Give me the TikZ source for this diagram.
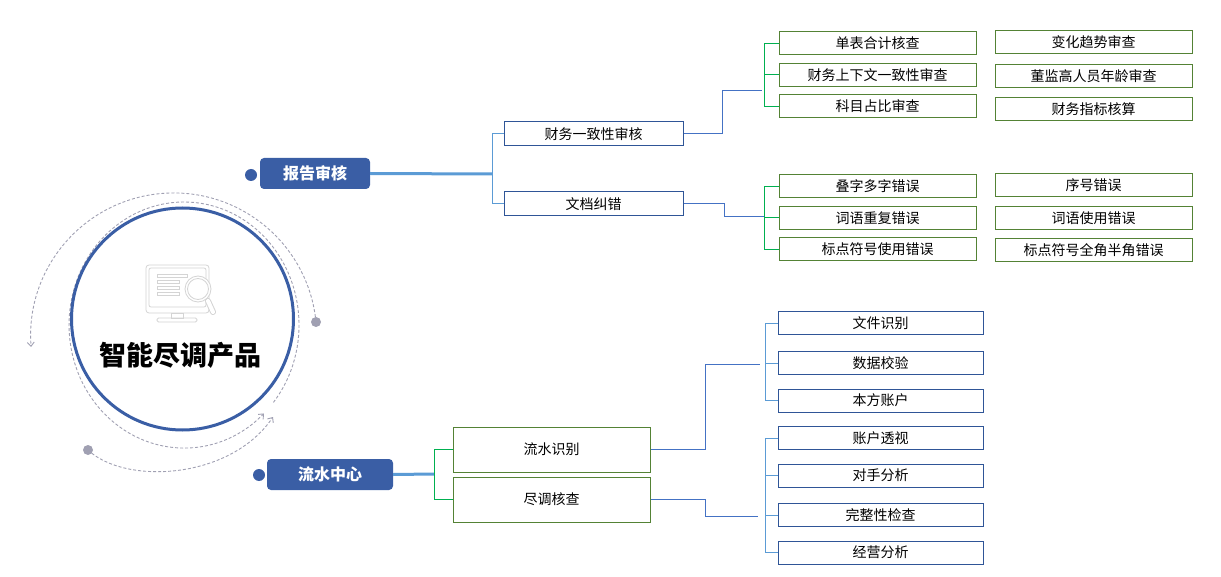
\documentclass[tikz,border=0pt]{standalone}
\usepackage{fontspec}
\setmainfont{Noto Sans CJK SC}
\usetikzlibrary{arrows.meta,calc}
\definecolor{navy}{RGB}{47,85,151}
\definecolor{olive}{RGB}{84,130,53}
\definecolor{brgreen}{RGB}{0,176,80}
\definecolor{ltblue}{RGB}{91,155,213}
\definecolor{midblue}{RGB}{68,114,196}
\definecolor{tagblue}{RGB}{58,94,165}
\definecolor{dashgray}{RGB}{160,160,178}
\definecolor{icongray}{RGB}{212,212,212}
\tikzset{
  tag/.style={rectangle, rounded corners=4pt, fill=tagblue, text=white, font=\fontsize{16}{18}\selectfont\bfseries, minimum height=31pt, inner sep=0pt},
  bluedot/.style={circle, fill=tagblue, minimum size=12pt, inner sep=0pt},
  graydot/.style={circle, fill=dashgray, minimum size=10pt, inner sep=0pt},
  navybox/.style={rectangle, draw=navy, line width=1pt, fill=white, font=\fontsize{14}{16}\selectfont, inner sep=0pt, minimum height=23pt},
  olivebox/.style={rectangle, draw=olive, line width=1pt, fill=white, font=\fontsize{14}{16}\selectfont, inner sep=0pt, minimum height=23pt},
  trunk/.style={draw=ltblue, line width=3pt},
  conn/.style={draw=midblue, line width=1pt},
  gbr/.style={draw=brgreen, line width=1pt},
  lbr/.style={draw=ltblue, line width=1pt},
  dsh/.style={draw=dashgray, line width=0.9pt, dash pattern=on 3pt off 2pt},
}
\begin{document}
\begin{tikzpicture}[x=1pt,y=-1pt]
\useasboundingbox (0,0) rectangle (1221,577);

% decorative dashed arcs
\node[graydot] (gd1) at (316,322) {};
\node[graydot] (gd2) at (88,450) {};
\draw[dsh,-{Straight Barb[length=4pt,width=7pt]}] (gd1.center) arc[start angle=-5.6, end angle=-184.4, radius=143];
\draw[dsh,-{Straight Barb[length=4pt,width=7pt]}] (273.4,402.4) arc[start angle=39, end angle=-314, x radius=115, y radius=123];
\draw[dsh,-{Straight Barb[length=4pt,width=7pt]}] (gd2.center) .. controls (125,485) and (230,480) .. (273,417);

% core circle
\node[circle, draw=tagblue, line width=3pt, fill=white, minimum size=222pt, inner sep=0pt] (core) at (182.5,319) {};
\node[font=\fontsize{27}{30}\selectfont\bfseries, text=black] (title) at (180,355) {智能尽调产品};

% icon
\begin{scope}[draw=icongray, line width=0.8pt]
  \draw[rounded corners=3pt] (146,265) rectangle (209,313);
  \draw[rounded corners=2pt] (149,268) rectangle (206,307);
  \draw (171,313) rectangle (183,318);
  \draw[rounded corners=1.5pt] (157,318) rectangle (197,322);
  \draw (157,274.5) rectangle (187,277.5);
  \draw (157,280.5) rectangle (179,283.5);
  \draw (157,286.5) rectangle (179,289.5);
  \draw (157,292.5) rectangle (179,295.5);
  \draw[line width=6pt, icongray, line cap=round] (208,301) -- (213,312);
  \draw[line width=4pt, white, line cap=round] (208,301) -- (213,312);
  \filldraw[fill=white] (198,289) circle (13);
  \draw (198,289) circle (10.5);
\end{scope}

% tags
\node[bluedot] (dt1) at (251,175) {};
\node[bluedot] (dt2) at (259,475) {};
\node[tag, minimum width=110pt] (t1) at (315,173.5) {报告审核};
\node[tag, minimum width=126pt] (t2) at (330,474.5) {流水中心};

% level 1
\node[navybox, minimum width=179pt, minimum height=24pt] (a1) at (593.5,134) {财务一致性审核};
\node[navybox, minimum width=179pt, minimum height=24pt] (a2) at (593.5,204) {文档纠错};
\node[olivebox, minimum width=197pt, minimum height=45pt] (c1) at (551.5,449.5) {流水识别};
\node[olivebox, minimum width=197pt, minimum height=45pt] (c2) at (551.5,499.5) {尽调核查};

% level 2 upper
\node[olivebox, minimum width=197pt] (b1) at (877.5,43.5) {单表合计核查};
\node[olivebox, minimum width=197pt] (b2) at (877.5,75) {财务上下文一致性审查};
\node[olivebox, minimum width=197pt] (b3) at (877.5,106.5) {科目占比审查};
\node[olivebox, minimum width=197pt] (e1) at (1093.5,42) {变化趋势审查};
\node[olivebox, minimum width=197pt] (e2) at (1093.5,76) {董监高人员年龄审查};
\node[olivebox, minimum width=197pt] (e3) at (1093.5,109) {财务指标核算};
\node[olivebox, minimum width=197pt] (b4) at (877.5,186.5) {叠字多字错误};
\node[olivebox, minimum width=197pt] (b5) at (877.5,218) {词语重复错误};
\node[olivebox, minimum width=197pt] (b6) at (877.5,249.5) {标点符号使用错误};
\node[olivebox, minimum width=197pt] (e4) at (1093.5,185) {序号错误};
\node[olivebox, minimum width=197pt] (e5) at (1093.5,218) {词语使用错误};
\node[olivebox, minimum width=197pt] (e6) at (1093.5,250.5) {标点符号全角半角错误};

% level 2 lower
\node[navybox, minimum width=205pt] (d1) at (880.5,323.5) {文件识别};
\node[navybox, minimum width=205pt] (d2) at (880.5,363) {数据校验};
\node[navybox, minimum width=205pt] (d3) at (880.5,400.5) {本方账户};
\node[navybox, minimum width=205pt] (d4) at (880.5,438) {账户透视};
\node[navybox, minimum width=205pt] (d5) at (880.5,475.5) {对手分析};
\node[navybox, minimum width=205pt] (d6) at (880.5,515) {完整性检查};
\node[navybox, minimum width=205pt] (d7) at (880.5,552.5) {经营分析};

% junction coordinates
\coordinate (j1) at (492,174);
\coordinate (j2) at (434.5,474);
\coordinate (k1) at (764,91);
\coordinate (k2) at (764,217);
\coordinate (k3) at (765,364);
\coordinate (k4) at (765,516);

% trunks
\draw[trunk] (t1.east) -- (j1);
\draw[trunk] (t2.east) -- (j2);
\draw[lbr] (a1.west) -- (a1.west -| j1) -- (a2.west -| j1) -- (a2.west);
\draw[gbr] (c1.west) -- (c1.west -| j2) -- (c2.west -| j2) -- (c2.west);

% level1 -> level2 connectors
\draw[conn] (a1.east) -- ++(39,0) |- ($(k1)+(-2,0)$);
\draw[conn] (a2.east) -- ++(41,0) |- (k2);
\draw[conn] (c1.east) -- ++(55,0) |- ($(k3)+(-5,0)$);
\draw[conn] (c2.east) -- ++(55,0) |- ($(k4)+(-7,0)$);

% brackets
\draw[gbr] (b1.west) -- (b1.west -| k1) -- (b3.west -| k1) -- (b3.west);
\draw[gbr] (b2.west) -- (b2.west -| k1);
\draw[gbr] (b4.west) -- (b4.west -| k2) -- (b6.west -| k2) -- (b6.west);
\draw[gbr] (b5.west) -- (b5.west -| k2);
\draw[lbr] (d1.west) -- (d1.west -| k3) -- (d3.west -| k3) -- (d3.west);
\draw[lbr] (d2.west) -- (d2.west -| k3);
\draw[lbr] (d4.west) -- (d4.west -| k4) -- (d7.west -| k4) -- (d7.west);
\draw[lbr] (d5.west) -- (d5.west -| k4);
\draw[lbr] (d6.west) -- (d6.west -| k4);
\end{tikzpicture}
\end{document}
